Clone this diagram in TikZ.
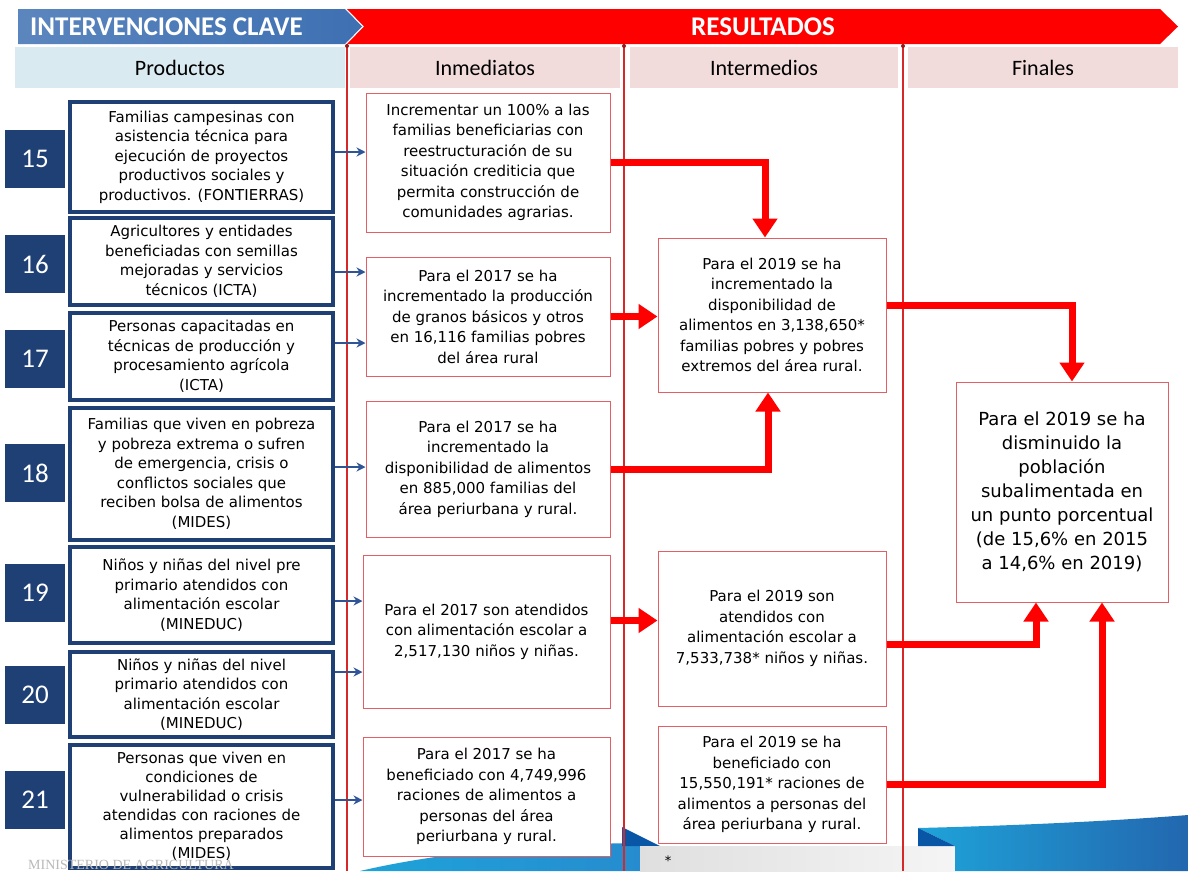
\documentclass[tikz,border=0pt]{standalone}
\usepackage{fontspec}
\setmainfont{DejaVu Sans}
\newfontfamily\headfont{Carlito}
\newfontfamily\footfont{Liberation Serif}
\usetikzlibrary{arrows.meta,positioning,calc}

\definecolor{prodBlue}{RGB}{31,64,116}
\definecolor{headBlue}{RGB}{62,112,178}
\definecolor{cellBlue}{RGB}{218,234,241}
\definecolor{cellPink}{RGB}{242,220,219}
\definecolor{resRed}{RGB}{255,0,0}
\definecolor{lineRed}{RGB}{214,40,40}
\definecolor{boxRed}{RGB}{226,96,100}
\definecolor{arrowBlue}{RGB}{47,85,151}
\definecolor{waveBlue}{RGB}{38,140,207}
\definecolor{waveDark}{RGB}{10,86,166}

\begin{document}
\begin{tikzpicture}
[x=1pt,y=-1pt,
  numDecorate/.style={fill=prodBlue,text=white,minimum width=60pt,minimum height=58pt,inner sep=0pt,
    font=\headfont\fontsize{27}{27}\selectfont},%
  prodDecorate/.style={draw=prodBlue,line width=3.5pt,fill=white,minimum width=263pt,align=center,
    inner sep=0pt,font=\fontsize{15}{19.5}\selectfont},%
  resDecorate/.style={draw=boxRed,line width=1pt,fill=white,align=center,inner sep=0pt,
    font=\fontsize{15}{20.5}\selectfont},%
  cellDecorate/.style={minimum height=41pt,inner sep=0pt,font=\headfont\fontsize{22}{22}\selectfont},%
  bandText/.style={text=white,inner sep=0pt,font=\headfont\bfseries\fontsize{27}{27}\selectfont},%
  prodArrow/.style={-{Stealth[length=9pt,width=9pt]},draw=arrowBlue,line width=2.5pt},%
  resArrow/.style={-{Triangle[length=19pt,width=24pt]},draw=resRed,line width=7pt}]
\useasboundingbox (0,0) rectangle (1188,871);
\fill[white] (0,0) rectangle (1188,871);

%% bottom wave of the slide
\shade[left color=waveBlue!80!cyan,right color=waveBlue] (360,871) .. controls (450,850) and (550,844) .. (640,843) -- (640,871) -- cycle;
\fill[waveDark] (622,827) -- (660,846) -- (622,846) -- cycle;
\shade[left color=gray!25,right color=gray!8] (640,846) rectangle (955,871);
\shade[left color=waveBlue!80!cyan,right color=waveDark!90] (918,828) .. controls (1000,826) and (1100,822) .. (1188,815) -- (1188,871) -- (955,871) -- (955,846) -- cycle;
\fill[waveDark] (918,828) -- (955,846) -- (918,846) -- cycle;

%% header bands
\shade[left color=headBlue!85!white,right color=headBlue] (18,9) -- (345,9) -- (362,26.5) -- (345,44) -- (18,44) -- cycle;
\fill[resRed] (347,9) -- (1160,9) -- (1178,26.5) -- (1160,44) -- (347,44) -- (364,26.5) -- cycle;
\node (clave) at (30,27) [bandText,anchor=west] {INTERVENCIONES CLAVE};
\node (resultados) at (763,27) [bandText] {RESULTADOS};

\node (productos) at (180,67.5) [cellDecorate,fill=cellBlue,minimum width=330pt] {Productos};
\node (inmediatos) at (485,67.5) [cellDecorate,fill=cellPink,minimum width=270pt] {Inmediatos};
\node (intermedios) at (764,67.5) [cellDecorate,fill=cellPink,minimum width=268pt] {Intermedios};
\node (finales) at (1043,67.5) [cellDecorate,fill=cellPink,minimum width=270pt] {Finales};

%% column rules
\foreach \x in {347,624,903}
{
  \draw[lineRed,line width=1.2pt] (\x,44) -- (\x,871);
  \fill[lineRed!70!black] (\x,46) circle (2pt);
}

%% numbers
\foreach \nodename/\y in {15/159, 16/264, 17/359, 18/473, 19/593, 20/695, 21/800}
{
  \node (n\nodename) at (35,\y) [numDecorate] {\nodename};
}

%% productos
\node (p15) at (201.5,157) [prodDecorate,minimum height=110pt] {Familias campesinas con\\asistencia técnica para\\ejecución de proyectos\\productivos sociales y\\productivos. (FONTIERRAS)};
\node (p16) at (201.5,261.5) [prodDecorate,minimum height=87pt] {Agricultores y entidades\\beneficiadas con semillas\\mejoradas y servicios\\técnicos (ICTA)};
\node (p17) at (201.5,356.5) [prodDecorate,minimum height=87pt] {Personas capacitadas en\\técnicas de producción y\\procesamiento agrícola\\(ICTA)};
\node (p18) at (201.5,474) [prodDecorate,minimum height=132pt] {Familias que viven en pobreza\\y pobreza extrema o sufren\\de emergencia, crisis o\\conflictos sociales que\\reciben bolsa de alimentos\\(MIDES)};
\node (p19) at (201.5,595) [prodDecorate,minimum height=96pt] {Niños y niñas del nivel pre\\primario atendidos con\\alimentación escolar\\(MINEDUC)};
\node (p20) at (201.5,694.5) [prodDecorate,minimum height=85pt] {Niños y niñas del nivel\\primario atendidos con\\alimentación escolar\\(MINEDUC)};
\node (p21) at (201.5,806.5) [prodDecorate,minimum height=123pt,font=\fontsize{15}{19}\selectfont] {Personas que viven en\\condiciones de\\vulnerabilidad o crisis\\atendidas con raciones de\\alimentos preparados\\(MIDES)};

%% resultados inmediatos
\node (i1) at (488,162.5) [resDecorate,minimum width=244pt,minimum height=139pt] {Incrementar un 100\% a las\\familias beneficiarias con\\reestructuración de su\\situación crediticia que\\permita construcción de\\comunidades agrarias.};
\node (i2) at (488,316.5) [resDecorate,minimum width=244pt,minimum height=119pt] {Para el 2017 se ha\\incrementado la producción\\de granos básicos y otros\\en 16,116 familias pobres\\del área rural};
\node (i3) at (488,469) [resDecorate,minimum width=244pt,minimum height=136pt] {Para el 2017 se ha\\incrementado la\\disponibilidad de alimentos\\en 885,000 familias del\\área periurbana y rural.};
\node (i4) at (486.5,631.5) [resDecorate,minimum width=247pt,minimum height=153pt] {Para el 2017 son atendidos\\con alimentación escolar a\\2,517,130 niños y niñas.};
\node (i5) at (486.5,796.5) [resDecorate,minimum width=247pt,minimum height=119pt] {Para el 2017 se ha\\beneficiado con 4,749,996\\raciones de alimentos a\\personas del área\\periurbana y rural.};

%% resultados intermedios
\node (m1) at (772,315) [resDecorate,minimum width=228pt,minimum height=154pt] {Para el 2019 se ha\\incrementado la\\disponibilidad de\\alimentos en 3,138,650*\\familias pobres y pobres\\extremos del área rural.};
\node (m2) at (772,628.5) [resDecorate,minimum width=228pt,minimum height=155pt] {Para el 2019 son\\atendidos con\\alimentación escolar a\\7,533,738* niños y niñas.};
\node (m3) at (772,784.5) [resDecorate,minimum width=228pt,minimum height=117pt] {Para el 2019 se ha\\beneficiado con\\15,550,191* raciones de\\alimentos a personas del\\área periurbana y rural.};

%% resultado final
\node (f1) at (1062,492) [resDecorate,minimum width=212pt,minimum height=220pt,font=\fontsize{18}{24}\selectfont] {Para el 2019 se ha\\disminuido la\\población\\subalimentada en\\un punto porcentual\\(de 15,6\% en 2015\\a 14,6\% en 2019)};

%% productos to inmediatos
\foreach \startnode/\endnode/\shift in {p15/i1/5, p16/i2/-10.5, p17/i2/13.5, p18/i3/7, p19/i4/-6, p20/i4/22.5, p21/i5/6.5}
{
  \draw[prodArrow] ([yshift=\shift pt]\startnode.east) -- ([yshift=\shift pt]\startnode.east -| \endnode.west);
}

%% result chain
\draw[resArrow] (i1.east) -| ([xshift=-7pt]m1.north);
\draw[resArrow] (i2.east) -- (i2.east -| m1.west);
\draw[resArrow] (i3.east) -| ([xshift=-4pt]m1.south);
\draw[resArrow] ([yshift=10pt]m1.east) -| ([xshift=10pt]f1.north);
\draw[resArrow] ([yshift=11pt]i4.east) -- ([yshift=11pt]i4.east -| m2.west);
\draw[resArrow] ([yshift=-15.5pt]m2.east) -| ([xshift=-26pt]f1.south);
\draw[resArrow] (m3.east) -| ([xshift=40pt]f1.south);

%% footer
\node (ministerio) at (28,865) [anchor=west,inner sep=0pt,text=gray!55,font=\footfont\fontsize{14}{14}\selectfont] {MINISTERIO DE AGRICULTURA};
\node (nota) at (668,861) [inner sep=0pt,font=\fontsize{13}{13}\selectfont] {*};
\end{tikzpicture}
\end{document}
